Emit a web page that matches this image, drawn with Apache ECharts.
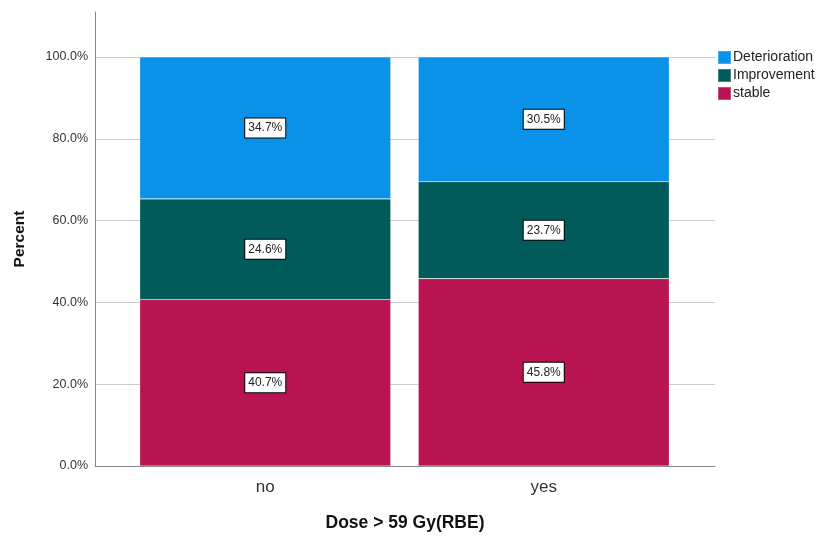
<!DOCTYPE html>
<html>
<head>
<meta charset="utf-8">
<script src="https://cdn.jsdelivr.net/npm/echarts@6/dist/echarts.min.js"></script>
<style>
html, body { margin: 0; padding: 0; background: #fff; }
#chart { width: 821px; height: 536px; }
</style>
</head>
<body>
<div id="chart"></div>
<script>
// data
var categories = ['no', 'yes'];
var stable = [40.7, 45.8];
var improvement = [24.6, 23.7];
var deterioration = [34.7, 30.5];
var yTicks = [0, 20, 40, 60, 80, 100];

var myChart = echarts.init(document.getElementById('chart'));
var font = 'Liberation Sans, Arial, sans-serif';

function seg(name, data, color) {
    return {
        name: name,
        type: 'bar',
        stack: 'total',
        xAxisIndex: 1,
        yAxisIndex: 1,
        barWidth: 251,
        data: data,
        itemStyle: { color: color, borderColor: 'rgba(255,255,255,0.25)', borderWidth: 0.6 },
        label: {
            show: true,
            position: 'inside',
            formatter: function (p) { return p.value.toFixed(1) + '%'; },
            fontFamily: font,
            fontSize: 12,
            color: '#222',
            backgroundColor: '#fff',
            borderColor: '#000',
            borderWidth: 1,
            padding: [4, 3, 3, 3]
        }
    };
}

myChart.setOption({
    animation: false,
    textStyle: { fontFamily: font },
    legend: {
        orient: 'vertical',
        left: 717,
        top: 50,
        padding: 0,
        itemWidth: 13,
        itemHeight: 13,
        itemGap: 3,
        icon: 'rect',
        data: ['Deterioration', 'Improvement', 'stable'],
        textStyle: { fontSize: 14, color: '#222', padding: [0, 0, 0, -3] }
    },
    grid: [
        { left: 95, right: 106, top: 12, bottom: 70, outerBoundsMode: 'none', containLabel: false },
        { left: 126, right: 138, top: 12, bottom: 70, outerBoundsMode: 'none', containLabel: false }
    ],
    xAxis: [
        {
            type: 'category', gridIndex: 0, data: categories,
            axisLine: { lineStyle: { color: '#888', width: 1 } },
            axisTick: { show: false }, axisLabel: { show: false },
            name: 'Dose > 59 Gy(RBE)', nameLocation: 'middle', nameGap: 48,
            nameTextStyle: { fontSize: 17.5, fontWeight: 'bold', color: '#111' }
        },
        {
            type: 'category', gridIndex: 1, data: categories,
            axisLine: { show: false }, axisTick: { show: false },
            axisLabel: { fontSize: 17, color: '#333', margin: 13 }
        }
    ],
    yAxis: [
        {
            type: 'value', gridIndex: 0, min: 0, max: 111, interval: 20,
            axisLine: { show: true, lineStyle: { color: '#888', width: 1 } },
            axisTick: { show: false },
            splitLine: { show: true, showMaxLine: false, lineStyle: { color: '#ccc', width: 1 } },
            axisLabel: {
                fontSize: 12.5, color: '#333', margin: 7, showMaxLabel: false,
                formatter: function (v) { return yTicks.indexOf(v) >= 0 ? v.toFixed(1) + '%' : ''; }
            },
            name: 'Percent', nameLocation: 'middle', nameGap: 67, nameRotate: 90,
            nameTextStyle: { fontSize: 15.5, fontWeight: 'bold', color: '#111' }
        },
        {
            type: 'value', gridIndex: 1, min: 0, max: 111, interval: 20,
            axisLine: { show: false }, axisTick: { show: false },
            axisLabel: { show: false }, splitLine: { show: false }
        }
    ],
    series: [
        seg('stable', stable, '#b81451'),
        seg('Improvement', improvement, '#015b5a'),
        seg('Deterioration', deterioration, '#0a92e8')
    ]
});
</script>
</body>
</html>
